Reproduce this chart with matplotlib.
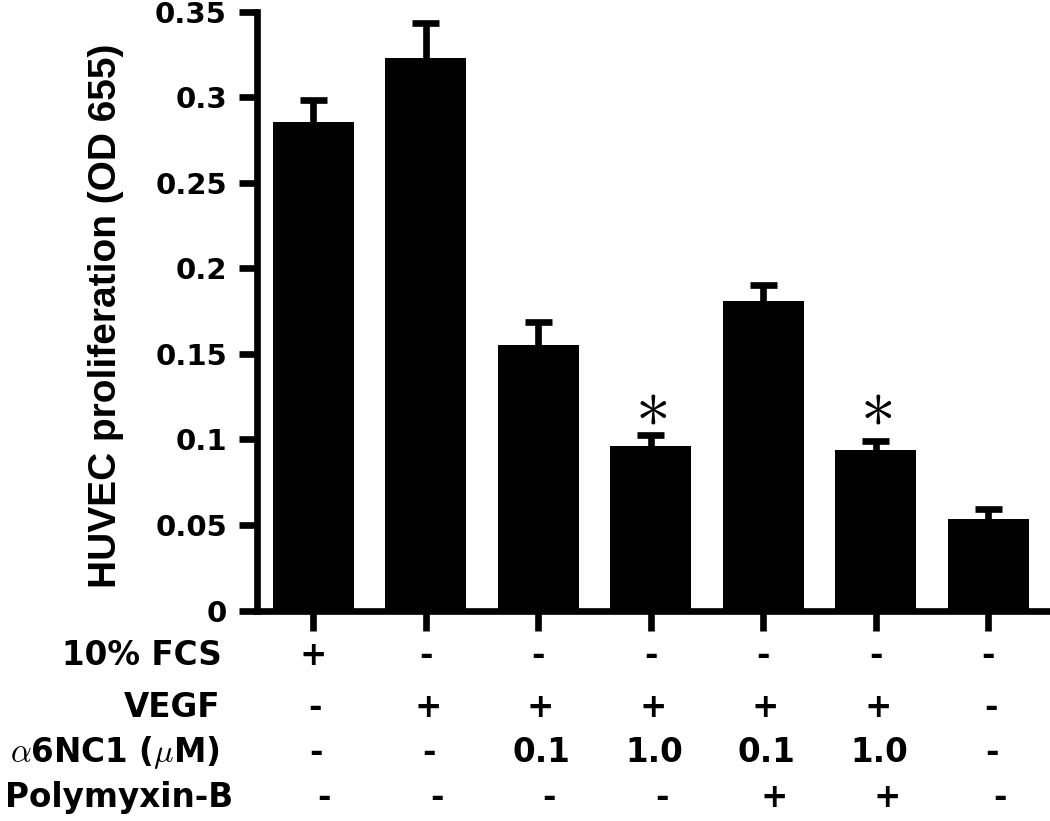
import numpy as np
import matplotlib
matplotlib.use('Agg')
import matplotlib.pyplot as plt
import matplotlib.transforms as mtransforms

# bar heights and upper error (SEM)
groups = ['1', '2', '3', '4', '5', '6', '7']
values = [0.2855, 0.323, 0.1551, 0.0963, 0.1808, 0.0936, 0.0533]
errors = [0.0129, 0.0203, 0.0135, 0.0064, 0.0096, 0.0058, 0.0060]
star_groups = [3, 5]
star_level = 0.1195

# treatment table under the bars
row_labels = ['10% FCS', 'VEGF', r'$\alpha$6NC1 ($\mu$M)', 'Polymyxin-B']
fcs = ['+', '-', '-', '-', '-', '-', '-']
vegf = ['-', '+', '+', '+', '+', '+', '-']
a6nc1 = ['-', '-', '0.1', '1.0', '0.1', '1.0', '-']
polymyxin = ['-', '-', '-', '-', '+', '+', '-']
yticks = [0, 0.05, 0.1, 0.15, 0.2, 0.25, 0.3, 0.35]
ytick_labels = ['0', '0.05', '0.1', '0.15', '0.2', '0.25', '0.3', '0.35']

plt.rcParams['mathtext.fontset'] = 'cm'
W, H = 1050, 821
fig = plt.figure(figsize=(10.5, 8.21), dpi=100)
ax = fig.add_axes([257 / W, 1 - 610.5 / H, 791 / W, (610.5 - 12) / H])

x = np.arange(len(groups))
tops = np.array(values) + np.array(errors)
# upper error bars only, stems sit behind the bars
ax.vlines(x, values, tops, color='black', linewidth=4.8, zorder=1)
ax.hlines(tops, x - 0.12, x + 0.12, color='black', linewidth=4.8, zorder=1)
ax.bar(x, values, width=0.72, color='black', zorder=2)

for i in star_groups:
    ax.text(x[i], star_level, r'$\ast$', fontsize=50, ha='center', va='center')

ax.set_xlim(-0.498, 6.53)
ax.set_ylim(0, 0.35)
ax.set_yticks(yticks)
ax.set_yticklabels(ytick_labels, fontfamily='DejaVu Sans', fontweight='bold', fontsize=21)
ax.set_xticks(x)
ax.set_xticklabels([])
ax.tick_params(axis='y', length=13, width=4.8, pad=8.6)
ax.tick_params(axis='x', length=14.5, width=4.8)
for s in ['top', 'right']:
    ax.spines[s].set_visible(False)
for s in ['left', 'bottom']:
    ax.spines[s].set_linewidth(4.8)

fig.text(106 / W, 1 - 316 / H, 'HUVEC proliferation (OD 655)', rotation=90,
         ha='center', va='center', fontfamily='Liberation Sans', fontweight='bold', fontsize=28)

# table rows (baselines in pixels from top)
rows = [fcs, vegf, a6nc1, polymyxin]
baselines = [665, 717, 762, 807]
label_right = [222, 220, 220, 233]
shifts = [0, 0.02, 0.03, 0.1]
trans = mtransforms.blended_transform_factory(ax.transData, fig.transFigure)
for lab, row, yb, xr, dx in zip(row_labels, rows, baselines, label_right, shifts):
    fig.text(xr / W, 1 - yb / H, lab, ha='right', va='baseline',
             fontfamily='DejaVu Sans', fontweight='bold', fontsize=23.5)
    for i, sym in enumerate(row):
        ax.text(x[i] + dx, 1 - yb / H, sym, transform=trans, ha='center', va='baseline',
                fontfamily='DejaVu Sans', fontweight='bold', fontsize=23.5, clip_on=False)

fig.savefig('out.png', dpi=100)
